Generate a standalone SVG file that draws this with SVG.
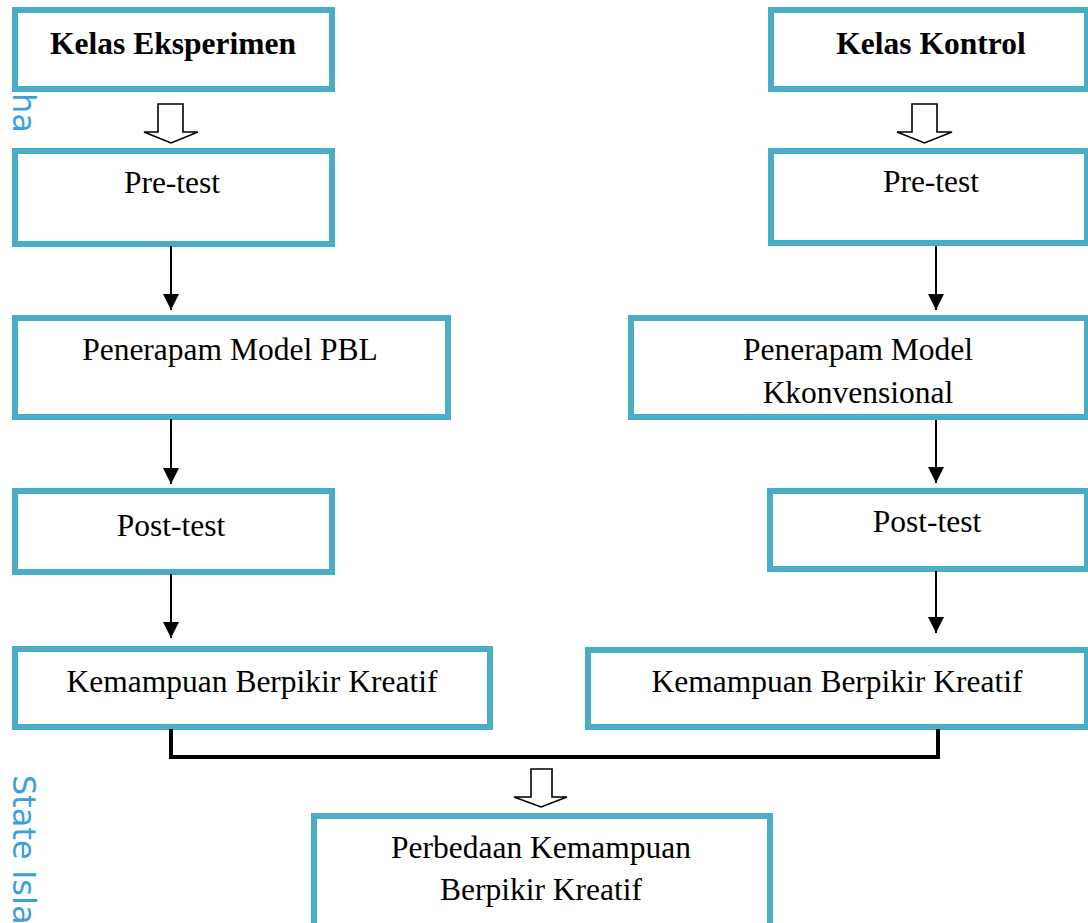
<svg xmlns="http://www.w3.org/2000/svg" width="1088" height="923" viewBox="0 0 1088 923">
<style>
.box{fill:#ffffff;stroke:#4bacc6;stroke-width:6}
.t{font-family:"Liberation Serif","Times New Roman",serif;font-size:31.5px;fill:#000;text-anchor:middle}
.b{font-weight:bold}
.wm{font-family:"DejaVu Sans",sans-serif;font-size:32px;fill:#3d9fda}
.ln{stroke:#000;stroke-width:2;fill:none}
.hollow{fill:#fff;stroke:#000;stroke-width:1.6;stroke-linejoin:miter}
</style>
<defs>
<marker id="ah" markerWidth="16" markerHeight="16" viewBox="0 0 16 16" refX="16" refY="8" orient="auto" markerUnits="userSpaceOnUse">
<path d="M0,0 L16,8 L0,16 Z" fill="#000"/>
</marker>
</defs>
<rect width="1088" height="923" fill="#fff"/>
<g id="watermark">
<text class="wm" transform="translate(13,93) rotate(90)">ha</text>
<text class="wm" transform="translate(13,775) rotate(90)">State Isla</text>
</g>
<g id="n-kelas-eksperimen"><rect class="box" x="15" y="10" width="317" height="79"/><text class="t b" x="173" y="54">Kelas Eksperimen</text></g>
<g id="n-kelas-kontrol"><rect class="box" x="771" y="10" width="316" height="79"/><text class="t b" x="931" y="54">Kelas Kontrol</text></g>
<g id="n-pretest-l"><rect class="box" x="15" y="151" width="317" height="93"/><text class="t" x="172" y="193">Pre-test</text></g>
<g id="n-pretest-r"><rect class="box" x="771" y="151" width="316" height="92"/><text class="t" x="931" y="192">Pre-test</text></g>
<g id="n-penerapan-l"><rect class="box" x="15" y="318" width="433" height="99"/><text class="t" x="230" y="360">Penerapam Model PBL</text></g>
<g id="n-penerapan-r"><rect class="box" x="631" y="318" width="456" height="99"/><text class="t" x="858" y="360">Penerapam Model</text><text class="t" x="858" y="403">Kkonvensional</text></g>
<g id="n-posttest-l"><rect class="box" x="15" y="491" width="317" height="81"/><text class="t" x="171" y="536">Post-test</text></g>
<g id="n-posttest-r"><rect class="box" x="770" y="491" width="317" height="78"/><text class="t" x="927" y="532">Post-test</text></g>
<g id="n-kemampuan-l"><rect class="box" x="15" y="649" width="475" height="78"/><text class="t" x="252" y="692">Kemampuan Berpikir Kreatif</text></g>
<g id="n-kemampuan-r"><rect class="box" x="588" y="650" width="499" height="77"/><text class="t" x="837" y="692">Kemampuan Berpikir Kreatif</text></g>
<g id="n-perbedaan"><rect class="box" x="314" y="816" width="456" height="120"/><text class="t" x="541" y="858">Perbedaan Kemampuan</text><text class="t" x="541" y="900">Berpikir Kreatif</text></g>
<g id="connectors">
<polygon class="hollow" points="158,104 183,104 183,132 198,132 171,143 144,132 158,132"/>
<polygon class="hollow" points="912,104 937,104 937,132 952,132 924.5,143 897,132 912,132"/>
<polygon class="hollow" points="531,769 552,769 552,797 567,797 541,807 514,797 531,797"/>
<line class="ln" x1="171" y1="246" x2="171" y2="310" marker-end="url(#ah)"/>
<line class="ln" x1="171" y1="419" x2="171" y2="484" marker-end="url(#ah)"/>
<line class="ln" x1="171" y1="574" x2="171" y2="638" marker-end="url(#ah)"/>
<line class="ln" x1="936" y1="246" x2="936" y2="310" marker-end="url(#ah)"/>
<line class="ln" x1="936" y1="420" x2="936" y2="483" marker-end="url(#ah)"/>
<line class="ln" x1="936" y1="571" x2="936" y2="633" marker-end="url(#ah)"/>
<path d="M171,729 V757 H938 V729" fill="none" stroke="#000" stroke-width="4"/>
</g>
</svg>
